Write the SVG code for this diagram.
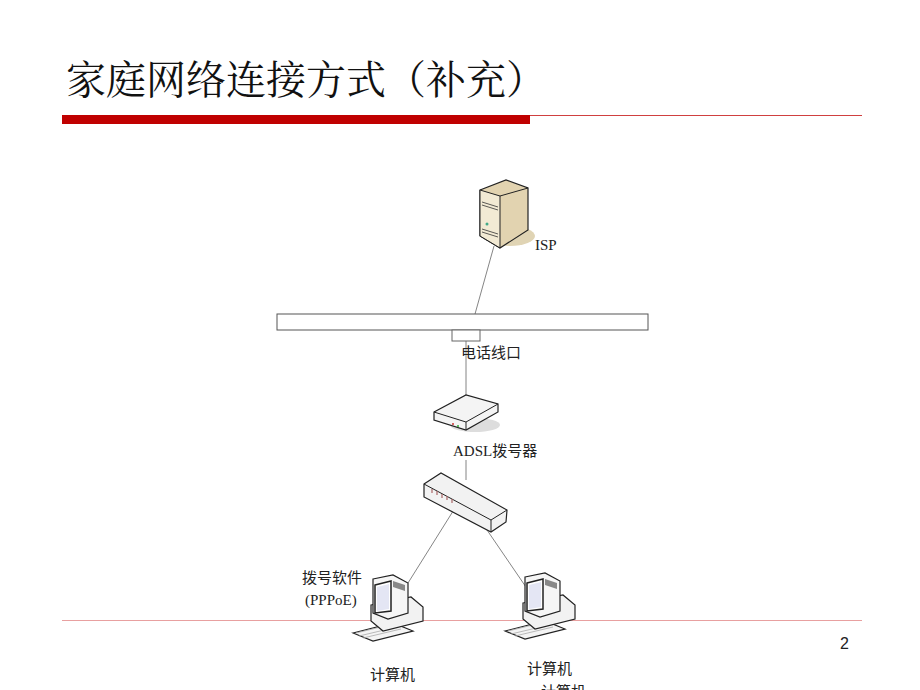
<svg xmlns="http://www.w3.org/2000/svg" width="920" height="690" viewBox="0 0 920 690">
<style>
.t{font-family:"Liberation Serif","Noto Sans CJK SC",serif;font-size:15px;fill:#222}
.c{stroke:#666;stroke-width:0.8;fill:none}
.o{stroke:#222;stroke-width:1.2}
</style>
<defs>
<g id="pc">
<path d="M0,58 L40,48 L60,56 L20,66 Z" fill="#f4f4f4" class="o"/>
<path d="M3,58 L40,49 M6,61 L44,52 M10,63 L48,54" stroke="#aaa" stroke-width="0.8"/>
<path d="M18,30 L58,22 L70,32 L70,46 L30,56 L18,46 Z" fill="#f2f2f2" class="o"/>
<path d="M20,4 L40,0 L55,8 L55,38 L35,44 L20,38 Z" fill="#f6f6f6" class="o"/>
<path d="M22,10 L38,6 L38,36 L22,38 Z" fill="#fff" stroke="#222" stroke-width="1.5"/>
<path d="M24,12 L36,9 L36,34 L24,36 Z" fill="#e4e6f4"/>
<path d="M40,6 L52,10 L52,16 L40,12 Z" fill="#888"/>
</g>
</defs>
<text x="66" y="94" font-family="'Noto Serif CJK SC','Noto Sans CJK SC',serif" font-size="40" fill="#111">家庭网络连接方式（补充）</text>
<rect x="62" y="115" width="468" height="9" fill="#c00000"/>
<line x1="530" y1="115.5" x2="862" y2="115.5" stroke="#d04040" stroke-width="1"/>
<line x1="62" y1="620.5" x2="862" y2="620.5" stroke="#e8a0a0" stroke-width="1"/>
<text x="840" y="649" font-family="'Liberation Sans',sans-serif" font-size="16" fill="#222">2</text>
<g id="connectors">
<line class="c" x1="494" y1="246" x2="475" y2="314"/>
<line class="c" x1="466" y1="341" x2="466" y2="398"/>
<line class="c" x1="466" y1="460" x2="466" y2="480"/>
<line class="c" x1="455" y1="508" x2="408" y2="583"/>
<line class="c" x1="487" y1="530" x2="528" y2="590"/>
</g>
<g id="isp">
<ellipse cx="510" cy="236" rx="25" ry="10" fill="#e0d4b4"/>
<path d="M480,190 L506,180 L528,188 L528,230 L500,248 L480,236 Z" fill="#e2d3b0" class="o"/>
<path d="M480,190 L500,196 L500,248 L480,236 Z" fill="#f2ead4" stroke="#222" stroke-width="1"/>
<path d="M500,196 L528,188" stroke="#222"/>
<path d="M482,202 L498,207 M482,205 L498,210 M482,229 L498,234 M482,232 L498,237" stroke="#333" stroke-width="0.8"/>
<circle cx="487" cy="224" r="1.5" fill="#4a8"/>
<text class="t" x="535" y="250">ISP</text>
</g>
<g id="line">
<rect x="277" y="314" width="371" height="16" fill="#fff" stroke="#555"/>
<rect x="452" y="330" width="28" height="11" fill="#fff" stroke="#666"/>
<text class="t" x="461" y="358">电话线口</text>
</g>
<g id="adsl">
<ellipse cx="475" cy="425" rx="25" ry="7" fill="#ddd"/>
<path d="M434,412 L466,395 L498,404 L498,412 L466,430 L434,420 Z" fill="#f4f4f4" class="o"/>
<path d="M434,412 L466,422 L498,404 M466,422 L466,430" stroke="#222" fill="none"/>
<circle cx="453" cy="424" r="1" fill="#c33"/><circle cx="458" cy="426" r="1" fill="#3a3"/>
<text class="t" x="453" y="456">ADSL拨号器</text>
</g>
<g id="switch">
<path d="M424,484 L441,473 L507,510 L506,522 L491,532 L424,497 Z" fill="#f2f2f2" class="o"/>
<path d="M424,484 L491,520 L507,510 M491,520 L491,532" stroke="#222" fill="none"/>
<path d="M432,489 v4 M437,491 v4 M442,494 v4 M447,496 v4 M452,499 v4" stroke="#a66" stroke-width="1.2"/>
</g>
<g id="pc1">
<use href="#pc" x="353" y="575"/>
<text class="t" x="302" y="583">拨号软件</text>
<text class="t" x="305" y="605">(PPPoE)</text>
<text class="t" x="370" y="680">计算机</text>
</g>
<g id="pc2">
<use href="#pc" x="505" y="573"/>
<text class="t" x="527" y="674">计算机</text>
<text class="t" x="541" y="697">计算机</text>
</g>
</svg>
